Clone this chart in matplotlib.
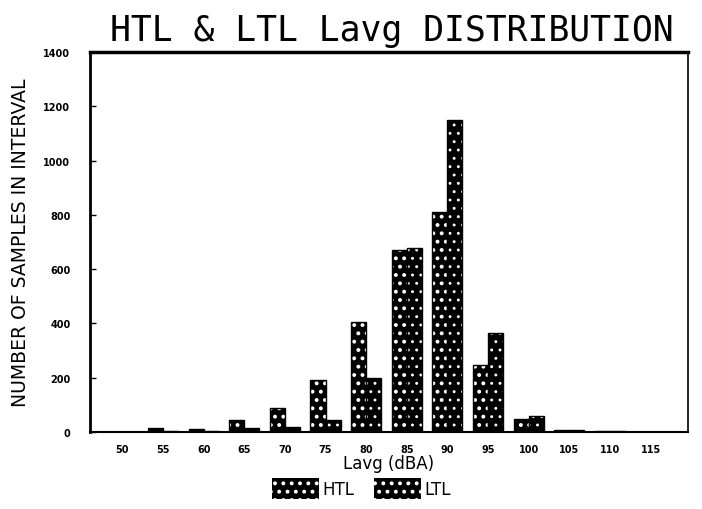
import matplotlib.pyplot as plt
import numpy as np
from matplotlib.patches import Patch

plt.rcParams['font.family'] = ['DejaVu Sans']
plt.rcParams['hatch.linewidth'] = 1.6

bins = ['50', '55', '60', '65', '70', '75', '80', '85', '90', '95', '100', '105', '110', '115']
htl = [0, 15, 11, 44, 88, 192, 406, 672, 812, 248, 48, 7, 2, 0]
ltl = [0, 4, 4, 15, 18, 44, 198, 677, 1151, 364, 59, 6, 2, 0]

fig = plt.figure(figsize=(7.02, 5.10), dpi=100)
ax = fig.add_axes([0.128, 0.151, 0.852, 0.745])

x = np.arange(len(bins))
w = 0.37
# black bars with white dots (LTL dots a bit finer)
ax.bar(x - w / 2, htl, w, color='black', edgecolor='white', hatch='..', linewidth=0)
with plt.rc_context({'hatch.linewidth': 0.9}):
    ax.bar(x + w / 2, ltl, w, color='black', edgecolor='white', hatch='..', linewidth=0)
    ltl_patch = Patch(facecolor='black', edgecolor='white', hatch='..', linewidth=0)
ax.bar(x - w / 2, htl, w, fill=False, edgecolor='black', linewidth=1)
ax.bar(x + w / 2, ltl, w, fill=False, edgecolor='black', linewidth=1)

ax.set_xlim(-0.8, 13.92)
ax.set_ylim(0, 1400)
ax.set_yticks(range(0, 1401, 200))
ax.set_xticks(x)
ax.set_xticklabels(bins, fontsize=7, fontweight='bold')
ax.tick_params(axis='x', length=0, pad=9)
ax.tick_params(axis='y', labelsize=7, length=4, width=1, direction='in', pad=14)
for t in ax.get_yticklabels():
    t.set_fontweight('bold')

ax.spines['left'].set_linewidth(2)
ax.spines['bottom'].set_linewidth(1.5)
ax.spines['top'].set_linewidth(2.5)
ax.spines['right'].set_linewidth(1.2)

ax.set_xlabel('Lavg (dBA)', fontsize=12, labelpad=0)
ax.set_ylabel('NUMBER OF SAMPLES IN INTERVAL', fontsize=13.5, labelpad=10)
fig.text(0.558, 0.94, 'HTL & LTL Lavg DISTRIBUTION', fontsize=25, ha='center',
         va='center', family='DejaVu Sans Mono', color='black')

handles = [Patch(facecolor='black', edgecolor='white', hatch='..', linewidth=0),
           ltl_patch]
fig.legend(handles, ['HTL', 'LTL'], loc='center', bbox_to_anchor=(0.515, 0.04),
           ncol=2, frameon=False, fontsize=12, handlelength=2.8, handleheight=1.5,
           handletextpad=0.2, columnspacing=1.2)

plt.savefig('out.png', dpi=100)
